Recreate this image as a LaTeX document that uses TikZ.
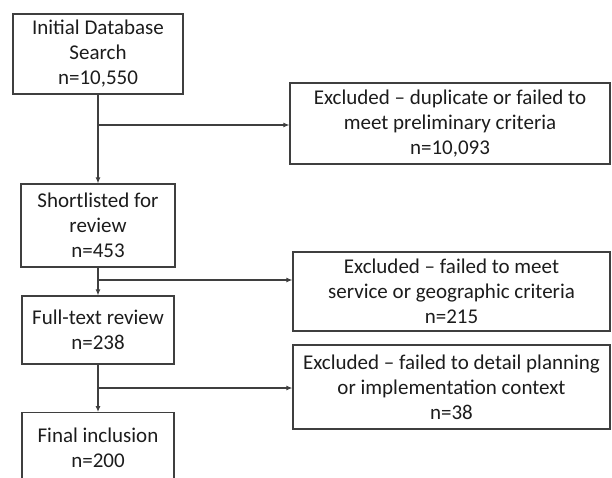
\documentclass[tikz,border=0pt]{standalone}
\usepackage{fontspec}
\setmainfont{Carlito}
\usetikzlibrary{arrows.meta}
\usepackage{xcolor}
\definecolor{boxline}{HTML}{3F3F3F}
\definecolor{boxtext}{HTML}{1C1C1C}

\begin{document}
\begin{tikzpicture}[x=1pt,y=-1pt]
    \def\tx{98}
    \def\ex{451.5}
    \tikzset{stagebox/.style={draw=boxline, line width=1.2pt, text=boxtext, align=center, inner sep=0pt,
                    font=\fontsize{21}{25}\selectfont},
             flow/.style={draw=boxline, line width=1.1pt, -{Latex[length=6pt,width=5pt]}}}
    \useasboundingbox (0,0) rectangle (612,477);
    % main column
    \node[stagebox, minimum width=170pt, minimum height=80pt] (init) at (\tx,54) {Initial Database\\Search\\n=10,550};
    \node[stagebox, minimum width=154pt, minimum height=83pt] (short) at (\tx,225.5) {Shortlisted for\\review\\n=453};
    \node[stagebox, minimum width=152pt, minimum height=68pt] (full) at (\tx,330) {Full-text review\\n=238};
    \node[stagebox, minimum width=152pt, anchor=north, inner ysep=15pt, text depth=40pt] (final) at (\tx,412) {Final inclusion\\n=200};
    % exclusions
    \node[stagebox, minimum width=320pt, minimum height=81pt] (excl1) at (450,123.5) {Excluded -- duplicate or failed to\\meet preliminary criteria\\n=10,093};
    \node[stagebox, minimum width=317pt, minimum height=79pt] (excl2) at (\ex,291.5) {Excluded -- failed to meet\\service or geographic criteria\\n=215};
    \node[stagebox, minimum width=317pt, minimum height=84pt] (excl3) at (\ex,387) {Excluded -- failed to detail planning\\or implementation context\\n=38};
    \coordinate (br1) at (\tx,125);
    \coordinate (br2) at (\tx,280);
    \coordinate (br3) at (\tx,388);
    \draw[flow] (init) -- (short);
    \draw[flow] (short) -- (full);
    \draw[flow] (full) -- (final.north);
    \draw[flow] (br1) -- (br1 -| excl1.west);
    \draw[flow] (br2) -- (br2 -| excl2.west);
    \draw[flow] (br3) -- (br3 -| excl3.west);
\end{tikzpicture}
\end{document}
